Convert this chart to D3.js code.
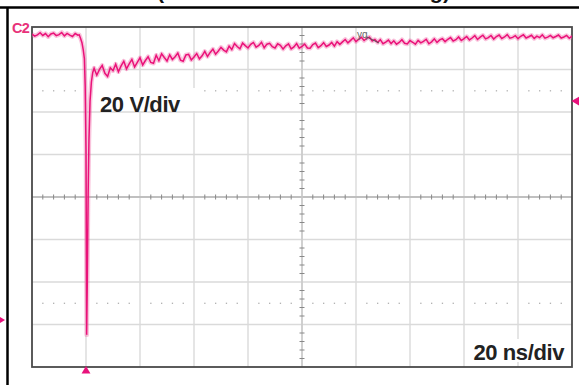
<!DOCTYPE html>
<html><head><meta charset="utf-8">
<script src="https://cdn.jsdelivr.net/npm/d3@7"></script>
<style>html,body{margin:0;padding:0;background:#fff;}svg{display:block;}</style>
</head><body>
<script>
// ---- data ----
const titleText = "(VDS waveform at switching)";
const voltLabel = "20 V/div";
const timeLabel = "20 ns/div";
const channelLabel = "C2";
const voltsPerDiv = 20;      // V
const nsPerDiv = 20;         // ns
const groundDivFromBottom = 1.106;
const triggerLevelV = 103;
const timeStart = -20;       // ns (left edge)
const sampleStep = 1;        // ns

// t = -20 .. -3 ns
const preTrigger = [134.5,133.6,134.2,135.2,133.9,134.8,133.3,134.6,135.0,133.8,
  134.3,135.3,133.7,134.9,134.1,133.4,134.8,134.0];
// switching edge
const edgeTimes = [-2.5,-2,-1.5,-1,-0.6,-0.3,0,0.25,0.5,0.8,1.1,1.5,2,2.5];
const edgeVolts = [134.2,132.5,130.5,127,123,110,80,-7,20,60,85,103,112,116.5];
// t = 3 .. 180 ns
const postStart = 3;
const postTrigger = [
  118.5,115.2,117.9,119.8,116.1,114.6,118.7,117.3,120.4,116.8,
  119.6,121.8,118.2,120.5,122.6,119.1,121.2,123.4,120.0,122.1,
  123.9,121.2,120.8,124.6,122.0,125.3,123.5,121.9,124.8,122.6,
  123.9,125.6,122.3,121.8,124.7,125.0,122.4,123.8,125.4,122.9,
  124.3,126.4,124.0,125.9,127.5,125.1,126.6,128.3,127.0,126.2,
  128.9,127.3,130.1,128.7,127.6,130.3,129.1,128.0,129.7,130.6,
  128.4,129.2,130.7,128.1,129.8,130.2,128.6,128.0,130.0,129.3,
  127.5,129.0,129.9,127.6,128.5,130.1,127.9,128.7,129.8,128.0,
  127.9,129.6,130.3,128.2,129.1,130.5,128.7,129.4,130.6,128.9,
  131.0,129.7,130.9,132.0,130.4,131.6,132.8,131.0,132.1,133.0,
  131.5,132.6,133.1,131.3,132.0,130.6,131.9,130.0,130.8,131.7,
  130.1,131.4,129.8,130.6,131.9,130.2,129.9,131.5,130.7,129.8,
  131.6,130.4,131.1,132.1,130.0,130.9,132.3,130.6,131.8,132.4,
  131.0,132.1,132.9,131.3,131.9,133.2,131.5,132.4,133.4,131.8,
  132.7,133.8,132.0,133.1,134.0,132.3,132.9,133.9,132.2,133.4,
  134.1,132.5,133.2,134.3,132.6,133.0,133.8,132.4,133.5,134.2,
  132.7,133.3,134.0,132.5,133.6,132.9,134.2,132.6,133.1,133.9,
  132.8,133.4,134.1,132.7,133.2,133.9,132.6,133.6];

// ---- build ----
const W = 579, H = 385;
const plot = {left: 32, right: 572, top: 27, bottom: 367};
const nX = 10, nY = 8;
const trace = [];
preTrigger.forEach((v,i)=>trace.push({t: timeStart + i*sampleStep, v}));
edgeTimes.forEach((t,i)=>trace.push({t, v: edgeVolts[i]}));
postTrigger.forEach((v,i)=>trace.push({t: postStart + i*sampleStep, v}));

const x = d3.scaleLinear().domain([timeStart, timeStart + nX*nsPerDiv]).range([plot.left, plot.right]);
const vMin = -groundDivFromBottom*voltsPerDiv;
const y = d3.scaleLinear().domain([vMin, vMin + nY*voltsPerDiv]).range([plot.bottom, plot.top]);

const svg = d3.select("body").append("svg").attr("width", W).attr("height", H)
  .style("font-family", "'Liberation Sans', Arial, Helvetica, sans-serif");

// outer frame & clipped title (cut off at the top in the source)
svg.append("text").attr("x", 157).attr("y", -1).attr("font-size", 20).attr("font-weight", "bold")
  .attr("textLength", 293).attr("lengthAdjust", "spacingAndGlyphs").attr("fill", "#111").text(titleText);
svg.append("line").attr("x1", 0).attr("x2", W).attr("y1", 7.5).attr("y2", 7.5).attr("stroke", "#000").attr("stroke-width", 2.5);
svg.append("line").attr("x1", 7.5).attr("x2", 7.5).attr("y1", 7).attr("y2", H).attr("stroke", "#000").attr("stroke-width", 2.5);

const xTicks = d3.range(0, nX+1).map(i => timeStart + i*nsPerDiv);
const yTicks = d3.range(0, nY+1).map(i => vMin + i*voltsPerDiv);
const g = svg.append("g");
// grid
g.selectAll(".vg").data(xTicks.slice(1,-1)).join("line")
  .attr("x1", d=>x(d)).attr("x2", d=>x(d)).attr("y1", plot.top).attr("y2", plot.bottom)
  .attr("stroke", "#dadada").attr("stroke-width", 1.4);
g.selectAll(".hg").data(yTicks.slice(1,-1)).join("line")
  .attr("y1", d=>y(d)).attr("y2", d=>y(d)).attr("x1", plot.left).attr("x2", plot.right)
  .attr("stroke", "#dadada").attr("stroke-width", 1.4);
// dotted rows at 1.5 div from top and bottom
const dotRows = [vMin + 1.5*voltsPerDiv, vMin + 6.5*voltsPerDiv];
const minorX = d3.range(0, nX*5+1).filter(i => i%5 !== 0).map(i => timeStart + i*nsPerDiv/5);
dotRows.forEach(r => {
  g.selectAll(null).data(minorX).join("rect")
    .attr("x", d=>x(d)-0.6).attr("y", y(r)-0.6).attr("width", 1.3).attr("height", 1.3).attr("fill", "#b0b0b0");
});
// centre axes with minor ticks
const xc = x(timeStart + 5*nsPerDiv), yc = y(vMin + 4*voltsPerDiv);
g.append("line").attr("x1", plot.left).attr("x2", plot.right).attr("y1", yc).attr("y2", yc).attr("stroke", "#b5b5b5").attr("stroke-width", 1.4);
g.append("line").attr("y1", plot.top).attr("y2", plot.bottom).attr("x1", xc).attr("x2", xc).attr("stroke", "#c8c8c8").attr("stroke-width", 1.4);
g.selectAll(null).data(minorX).join("line")
  .attr("x1", d=>x(d)).attr("x2", d=>x(d)).attr("y1", yc-2.5).attr("y2", yc+2.5).attr("stroke", "#888").attr("stroke-width", 1);
const minorY = d3.range(0, nY*5+1).filter(i => i%5 !== 0).map(i => vMin + i*voltsPerDiv/5);
g.selectAll(null).data(minorY).join("line")
  .attr("y1", d=>y(d)).attr("y2", d=>y(d)).attr("x1", xc-2.5).attr("x2", xc+2.5).attr("stroke", "#888").attr("stroke-width", 1);

// label boxes
svg.append("rect").attr("x", 93).attr("y", 88).attr("width", 106).attr("height", 23).attr("fill", "#fff");
svg.append("rect").attr("x", 467).attr("y", 339).attr("width", 101).attr("height", 23).attr("fill", "#fff");

// border
svg.append("rect").attr("x", plot.left).attr("y", plot.top).attr("width", plot.right-plot.left).attr("height", plot.bottom-plot.top)
  .attr("fill", "none").attr("stroke", "#4a4a4a").attr("stroke-width", 1.8);

// trace
svg.append("clipPath").attr("id", "pc").append("rect").attr("x", plot.left).attr("y", plot.top-6)
  .attr("width", plot.right-plot.left).attr("height", plot.bottom-plot.top+6);
const line = d3.line().x(d=>x(d.t)).y(d=>y(d.v));
const tg = svg.append("g").attr("clip-path", "url(#pc)");
tg.append("path").datum(trace).attr("d", line).attr("fill", "none").attr("stroke", "#f06aa8").attr("stroke-width", 4.5).attr("stroke-opacity", 0.4).attr("stroke-linejoin", "round");
tg.append("path").datum(trace).attr("d", line).attr("fill", "none").attr("stroke", "#ea1279").attr("stroke-width", 1.5).attr("stroke-linejoin", "miter");

// labels
svg.append("text").attr("x", 100).attr("y", 112).attr("font-size", 22).attr("font-weight", "bold").attr("fill", "#222").attr("letter-spacing", -0.4).text(voltLabel);
svg.append("text").attr("x", 564).attr("y", 360).attr("text-anchor", "end").attr("font-size", 22).attr("font-weight", "bold").attr("fill", "#222").attr("letter-spacing", -0.4).text(timeLabel);
svg.append("text").attr("x", 12).attr("y", 33).attr("font-size", 14.5).attr("font-weight", "bold").attr("fill", "#e8327a").attr("letter-spacing", -0.8).text(channelLabel);
svg.append("text").attr("x", 357).attr("y", 38).attr("font-size", 10).attr("fill", "#666").text("yq");
svg.append("line").attr("x1", 367).attr("y1", 37).attr("x2", 379).attr("y2", 43).attr("stroke", "#555").attr("stroke-width", 1);

// markers
const tri = d3.symbol().type(d3.symbolTriangle).size(34);
svg.append("path").attr("d", tri).attr("transform", `translate(${x(0)},${plot.bottom+4})`).attr("fill", "#e8127c");
svg.append("path").attr("d", tri).attr("transform", `translate(${plot.right+4.5},${y(triggerLevelV)}) rotate(-90)`).attr("fill", "#e8127c");
svg.append("path").attr("d", tri).attr("transform", `translate(0,${y(0)}) rotate(90)`).attr("fill", "#e8127c");
</script>
</body></html>
